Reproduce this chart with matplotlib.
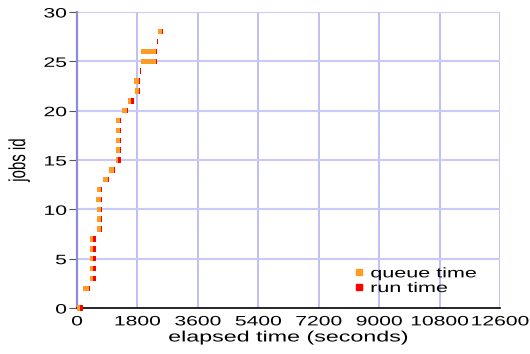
import matplotlib
matplotlib.use("Agg")
import matplotlib.pyplot as plt
from matplotlib.lines import Line2D
from matplotlib.patheffects import AbstractPathEffect
from matplotlib.transforms import Affine2D
import numpy as np

plt.rcParams['font.family'] = ['Liberation Sans', 'DejaVu Sans']

jobs = [0, 2, 3, 4, 5, 6, 7, 8, 9, 10, 11, 12, 13, 14, 15, 16, 17, 18, 19,
        20, 21, 22, 23, 24, 25, 26, 27, 28]
submit = [0, 180, 390, 390, 390, 390, 390, 600, 600, 600, 570, 600, 776, 955,
          1165, 1165, 1165, 1165, 1165, 1345, 1525, 1730, 1700, 1880, 1910,
          1910, 2390, 2420]
queue = [90, 180, 90, 90, 90, 90, 90, 115, 115, 115, 145, 115, 150, 150,
         60, 120, 120, 120, 120, 150, 90, 120, 150, 0, 450, 450, 0, 120]
run = [90, 30, 90, 90, 90, 90, 90, 30, 30, 30, 30, 30, 30, 30,
       90, 30, 30, 30, 30, 30, 90, 30, 30, 30, 30, 30, 30, 30]
xticks = [0, 1800, 3600, 5400, 7200, 9000, 10800, 12600]
yticks = [0, 5, 10, 15, 20, 25, 30]
series_labels = ['queue time', 'run time']

orange = '#FF9C26'
red = '#FF0000'
SX = 1.55  # the reference's text is horizontally widened


class Stretch(AbstractPathEffect):
    """Widen text horizontally around a chosen anchor (text stays a Text)."""
    def __init__(self, sx, anchor='center'):
        super().__init__()
        self.sx = sx
        self.anchor = anchor

    def draw_path(self, renderer, gc, tpath, affine, rgbFace=None):
        ext = tpath.get_extents(affine)
        if self.anchor == 'left':
            cx = ext.x0
        elif self.anchor == 'right':
            cx = ext.x1
        else:
            cx = 0.5 * (ext.x0 + ext.x1)
        t = affine + Affine2D().translate(-cx, 0).scale(self.sx, 1).translate(cx, 0)
        renderer.draw_path(gc, tpath, t, rgbFace)


fig = plt.figure(figsize=(5.30, 3.54), dpi=100)
ax = fig.add_axes([77/530, 1 - 308/354, 423/530, 296/354])

sub = np.array(submit)
q = np.array(queue)
r = np.array(run)
ax.barh(jobs, q, left=sub, height=0.55, color=orange, linewidth=0, zorder=3,
        clip_on=False)
ax.barh(jobs, r, left=sub + q, height=0.55, color=red, linewidth=0, zorder=3,
        clip_on=False)

ax.set_xlim(0, 12600)
ax.set_ylim(0, 30)
ax.set_xticks(xticks)
ax.set_yticks(yticks)
ax.set_xticklabels([str(v) for v in xticks])
ax.set_yticklabels([str(v) for v in yticks])

for x in xticks[1:]:
    ax.axvline(x, color='#b4b4f0', lw=1.2, zorder=1)
for y in yticks[1:]:
    ax.axhline(y, color='#cacaf6', lw=1.5, zorder=1)

for s in ['top', 'right']:
    ax.spines[s].set_visible(False)
ax.spines['left'].set_color('#8c8cdc')
ax.spines['left'].set_linewidth(1.6)
ax.spines['left'].set_zorder(2)
ax.spines['bottom'].set_color('black')
ax.spines['bottom'].set_linewidth(1.2)
ax.spines['bottom'].set_zorder(2)

ax.tick_params(axis='y', direction='out', length=6, color='#555555',
               labelsize=9.8, pad=1.5)
ax.tick_params(axis='x', length=0, labelsize=9.8, pad=4.6)

for lab in ax.get_xticklabels():
    lab.set_path_effects([Stretch(SX, 'center')])
for lab in ax.get_yticklabels():
    lab.set_path_effects([Stretch(SX, 'right')])

xl = ax.set_xlabel('elapsed time (seconds)', fontsize=10.8, labelpad=1.5)
xl.set_path_effects([Stretch(SX, 'center')])
yl = ax.set_ylabel('jobs id', fontsize=10.8)
ax.yaxis.set_label_coords(-0.1206, 0.5)
yl.set_path_effects([Stretch(SX, 'center')])

handles = [Line2D([], [], marker='s', linestyle='none', color=orange, markersize=4.5),
           Line2D([], [], marker='s', linestyle='none', color=red, markersize=4.5)]
leg = ax.legend(handles, series_labels, loc='lower left',
                bbox_to_anchor=(0.645, 0.025), frameon=False, fontsize=10,
                handlelength=0.5, handletextpad=0.6, labelspacing=0.05,
                borderaxespad=0)
for t in leg.get_texts():
    t.set_path_effects([Stretch(SX, 'left')])

fig.savefig('out.png', dpi=100)
